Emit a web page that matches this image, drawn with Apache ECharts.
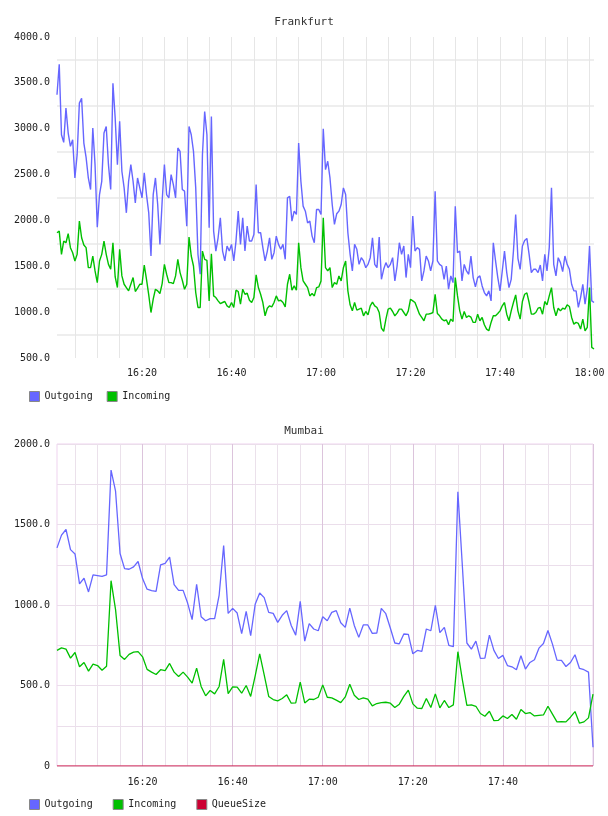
<!DOCTYPE html>
<html>
<head>
<meta charset="utf-8">
<script src="https://cdn.jsdelivr.net/npm/echarts@6/dist/echarts.min.js"></script>
<style>html,body{margin:0;padding:0;background:#fff}#main{width:608px;height:816px}</style>
</head>
<body>
<div id="main"></div>
<script>
// Frankfurt: one sample every 30 s, starting 16:01:00
var frankfurtOutgoing = [
  3370, 3703, 2934, 2851, 3224, 2953, 2808, 2880, 2463, 2717,
  3279, 3333, 2844, 2688, 2463, 2337, 3007, 2608, 1927, 2282,
  2427, 2953, 3025, 2608, 2337, 3496, 3116, 2608, 3080, 2536,
  2355, 2083, 2427, 2608, 2427, 2192, 2463, 2355, 2246, 2518,
  2282, 2083, 1612, 2282, 2463, 2174, 1739, 2210, 2608, 2282,
  2246, 2500, 2391, 2246, 2790, 2753, 2337, 2319, 1938, 3025,
  2934, 2753, 2355, 1630, 1413, 2717, 3188, 2934, 1920, 3134,
  1884, 1666, 1811, 2029, 1666, 1558, 1721, 1666, 1739, 1558,
  1775, 2101, 1739,
  2029, 1666, 1938, 1775, 1775, 1848, 2391, 1866, 1866, 1703,
  1558, 1666, 1811, 1576, 1648, 1829, 1739, 1685, 1739, 1576,
  2246, 2264, 1992, 2101, 2065, 2844, 2427, 2156, 2101, 1974,
  1992, 1829, 1757, 2119, 2119, 2065, 3000, 2554, 2645, 2463,
  2174, 1956, 2072, 2101, 2174, 2355, 2282, 1866, 1630, 1449,
  1739, 1685, 1521, 1594, 1558, 1485, 1521, 1594, 1811, 1521,
  1485, 1819, 1358, 1467, 1540, 1485, 1521, 1594, 1340, 1503,
  1757, 1630, 1721, 1377, 1630, 1485, 2047, 1666, 1703,
  1685, 1340, 1449, 1612, 1558, 1449, 1558, 2318, 1558, 1521,
  1503, 1358, 1503, 1250, 1395, 1322, 2155, 1648, 1666, 1340,
  1521, 1449, 1413, 1612, 1377, 1275, 1377, 1395, 1286, 1214,
  1177, 1232, 1123, 1757, 1558, 1377, 1232, 1449, 1666, 1431,
  1268, 1358, 1666, 2065, 1587, 1467, 1721, 1782, 1804, 1630,
  1431, 1467, 1467, 1431, 1514, 1340, 1630, 1449, 1703, 2355,
  1521, 1395, 1594, 1540, 1442, 1612, 1521, 1467, 1304, 1232,
  1232, 1051, 1159, 1304, 1087, 1250, 1721, 1123, 1105
];
var frankfurtIncoming = [
  1866, 1884, 1630, 1775, 1757, 1855, 1703, 1648, 1558, 1630,
  1992, 1811, 1732, 1703, 1485, 1485, 1612, 1449, 1322, 1558,
  1630, 1775, 1630, 1521, 1467, 1757, 1384, 1268, 1685, 1395,
  1304, 1268, 1232, 1304, 1377, 1225, 1261, 1304, 1304, 1514,
  1358, 1188, 996, 1141, 1250, 1232, 1203, 1311, 1521, 1413,
  1322, 1322, 1311, 1395, 1576, 1431, 1348, 1250, 1304, 1819,
  1612, 1503, 1214, 1051, 1051, 1666, 1576, 1565, 1123, 1637,
  1177, 1159, 1123, 1094, 1105, 1116, 1069, 1051, 1105, 1051,
  1239, 1225, 1087,
  1250, 1195, 1206, 1130, 1105, 1159, 1406, 1268, 1195, 1105,
  960, 1043, 1069, 1058, 1105, 1177, 1123, 1130, 1105, 1058,
  1304, 1413, 1239, 1286, 1239, 1757, 1485, 1340, 1304, 1268,
  1177, 1203, 1177, 1268, 1275, 1340, 2029, 1485, 1449, 1485,
  1268, 1322, 1304, 1395, 1340, 1485, 1558, 1232, 1080, 1014,
  1105, 1022, 1033, 1043, 960, 1007, 971, 1069, 1109, 1069,
  1051, 996, 826, 790, 924, 1033, 1043, 1007, 960, 989,
  1033, 1033, 996, 960, 1014, 1141, 1123, 1105, 1043,
  978, 942, 906, 978, 978, 985, 996, 1195, 985, 960,
  924, 906, 916, 862, 924, 898, 1377, 1177, 1014, 924,
  1007, 942, 960, 945, 888, 888, 978, 906, 942, 862,
  815, 797, 888, 960, 960, 985, 1014, 1069, 1105, 978,
  906, 1014, 1105, 1188, 1014, 924, 1116, 1195, 1210, 1105,
  978, 978, 996, 1043, 1051, 978, 1116, 1080, 1177, 1268,
  1051, 960, 1043, 1014, 1043, 1033, 1080, 1062, 942, 869,
  888, 877, 815, 924, 797, 833, 1268, 616, 598
];

// Mumbai: one sample per minute, starting 16:01
var mumbaiOutgoing = [
  1355, 1434, 1469, 1344, 1317, 1131, 1166, 1081, 1187, 1183,
  1178, 1187, 1838, 1707, 1320, 1226, 1222, 1237, 1270, 1164,
  1098, 1089, 1085, 1249, 1259, 1297, 1127, 1091, 1091, 1012,
  909, 1129, 927, 902, 915, 915, 1062, 1369, 948, 979,
  950, 822, 961, 809, 1004, 1075, 1046, 954, 948, 892,
  936, 965, 873, 813, 1023, 776, 884, 851, 840, 927,
  902, 954, 965, 890, 861, 981, 873, 799, 876, 876,
  824, 826, 979, 946, 857, 764, 759, 820, 817, 697,
  718, 712, 851, 840, 998, 828, 861, 749, 741, 1703,
  1241, 764, 726, 776, 668, 670, 813, 718, 668, 687,
  624, 616, 598, 685, 602, 643, 660, 732, 761, 842,
  757, 658, 656, 618, 643, 691, 606, 598, 583, 116
];
var mumbaiIncoming = [
  718, 734, 726, 670, 705, 616, 643, 589, 633, 624,
  595, 620, 1151, 971, 687, 662, 693, 707, 710, 678,
  600, 583, 568, 598, 593, 637, 583, 556, 583, 552,
  515, 608, 494, 436, 469, 448, 494, 662, 450, 492,
  490, 452, 500, 432, 560, 697, 566, 432, 413, 405,
  419, 442, 390, 392, 521, 392, 415, 413, 427, 504,
  427, 423, 409, 394, 429, 508, 440, 413, 423, 415,
  373, 388, 394, 396, 390, 363, 384, 432, 471, 386,
  359, 357, 419, 363, 448, 361, 407, 363, 380, 710,
  535, 376, 380, 371, 326, 309, 340, 282, 284, 311,
  295, 320, 290, 351, 326, 332, 311, 315, 317, 371,
  322, 274, 276, 274, 303, 338, 266, 274, 299, 446
];
var mumbaiQueueSize = [
  0, 0, 0, 0, 0, 0, 0, 0, 0, 0,
  0, 0, 0, 0, 0, 0, 0, 0, 0, 0,
  0, 0, 0, 0, 0, 0, 0, 0, 0, 0,
  0, 0, 0, 0, 0, 0, 0, 0, 0, 0,
  0, 0, 0, 0, 0, 0, 0, 0, 0, 0,
  0, 0, 0, 0, 0, 0, 0, 0, 0, 0,
  0, 0, 0, 0, 0, 0, 0, 0, 0, 0,
  0, 0, 0, 0, 0, 0, 0, 0, 0, 0,
  0, 0, 0, 0, 0, 0, 0, 0, 0, 0,
  0, 0, 0, 0, 0, 0, 0, 0, 0, 0,
  0, 0, 0, 0, 0, 0, 0, 0, 0, 0,
  0, 0, 0, 0, 0, 0, 0, 0, 0, 0
];

var frankfurtXLabels = ['16:20', '16:40', '17:00', '17:20', '17:40', '18:00'];
var mumbaiXLabels = ['16:20', '16:40', '17:00', '17:20', '17:40'];
var frankfurtGridValues = [750, 1250, 1750, 2250, 2750, 3250, 3750];

function pad(n) { return (n < 10 ? '0' : '') + n; }
function makeTimes(startSec, stepSec, n) {
  var out = [];
  for (var i = 0; i < n; i++) {
    var s = startSec + i * stepSec;
    out.push(pad(Math.floor(s / 3600)) + ':' + pad(Math.floor(s / 60) % 60) + ':' + pad(s % 60));
  }
  return out;
}
var frankfurtTimes = makeTimes(16 * 3600 + 60, 30, frankfurtOutgoing.length);
var mumbaiTimes = makeTimes(16 * 3600 + 60, 60, mumbaiOutgoing.length);

function onMinute(v, every) {
  return v.slice(6) === '00' && (+v.slice(3, 5)) % every === 0;
}

var FONT = 'DejaVu Sans Mono';
var txt = { fontFamily: FONT, fontSize: 10, color: '#222' };

var myChart = echarts.init(document.getElementById('main'));
var option = {
  animation: false,
  title: [
    { text: 'Frankfurt', left: 'center', top: 12, textStyle: { fontFamily: FONT, fontSize: 11, fontWeight: 'normal', color: '#333' } },
    { text: 'Mumbai', left: 'center', top: 421, textStyle: { fontFamily: FONT, fontSize: 11, fontWeight: 'normal', color: '#333' } }
  ],
  legend: [
    { data: ['Outgoing', 'Incoming'], left: 24, top: 386, icon: 'rect', itemWidth: 10, itemHeight: 10, itemGap: 14,
      itemStyle: { borderColor: '#888', borderWidth: 1 }, textStyle: txt },
    { data: ['Outgoing', 'Incoming', 'QueueSize'], left: 24, top: 794, icon: 'rect', itemWidth: 10, itemHeight: 10, itemGap: 20,
      itemStyle: { borderColor: '#888', borderWidth: 1 }, textStyle: txt }
  ],
  grid: [
    { left: 57, top: 37, width: 537, height: 321 },
    { left: 57, top: 444, width: 536, height: 322, show: true, borderColor: '#efd3ef', borderWidth: 1 }
  ],
  xAxis: [
    { type: 'category', gridIndex: 0, data: frankfurtTimes, boundaryGap: false,
      axisLine: { show: false }, axisTick: { show: false },
      axisLabel: { interval: function (i, v) { return v.slice(6) === '00' && frankfurtXLabels.indexOf(v.slice(0, 5)) >= 0; },
        formatter: function (v) { return v.slice(0, 5); }, margin: 10, fontFamily: FONT, fontSize: 10, color: '#222' },
      splitLine: { show: true, interval: function (i, v) { return onMinute(v, 5); }, lineStyle: { color: '#e6e6e6', width: 1 } } },
    { type: 'category', gridIndex: 1, data: mumbaiTimes, boundaryGap: false,
      axisLine: { show: false }, axisTick: { show: false },
      axisLabel: { interval: function (i, v) { return mumbaiXLabels.indexOf(v.slice(0, 5)) >= 0; },
        formatter: function (v) { return v.slice(0, 5); }, margin: 11, fontFamily: FONT, fontSize: 10, color: '#222' },
      splitLine: { show: true, interval: function (i, v) { return onMinute(v, 20); }, lineStyle: { color: '#dcc4dc', width: 1 } } },
    { type: 'category', gridIndex: 1, data: mumbaiTimes, boundaryGap: false, position: 'bottom',
      axisLine: { show: false }, axisTick: { show: false }, axisLabel: { show: false },
      splitLine: { show: true, interval: function (i, v) { return onMinute(v, 5) && !onMinute(v, 20); }, lineStyle: { color: '#ebe1eb', width: 1 } } }
  ],
  yAxis: [
    { type: 'value', gridIndex: 0, min: 500, max: 4000, interval: 500,
      axisLine: { show: false }, axisTick: { show: false }, splitLine: { show: false },
      axisLabel: { formatter: function (v) { return v.toFixed(1); }, margin: 7, fontFamily: FONT, fontSize: 10, color: '#222' } },
    { type: 'value', gridIndex: 0, min: 500, max: 4000,
      axisLine: { show: false }, axisLabel: { show: false },
      axisTick: { show: false, customValues: frankfurtGridValues },
      splitLine: { show: true, lineStyle: { color: '#eeeeee', width: 2 } } },
    { type: 'value', gridIndex: 1, min: 0, max: 2000, interval: 250,
      axisLine: { show: false }, axisTick: { show: false },
      splitLine: { show: true, lineStyle: { color: '#ebdeeb', width: 1 } },
      axisLabel: { formatter: function (v) { return v % 500 ? '' : (v === 0 ? '0' : v.toFixed(1)); }, margin: 7, fontFamily: FONT, fontSize: 10, color: '#222' } }
  ],
  series: [
    { name: 'Outgoing', type: 'line', xAxisIndex: 0, yAxisIndex: 0, data: frankfurtOutgoing, showSymbol: false,
      color: '#6666ff', lineStyle: { width: 1.4 } },
    { name: 'Incoming', type: 'line', xAxisIndex: 0, yAxisIndex: 0, data: frankfurtIncoming, showSymbol: false,
      color: '#00c000', lineStyle: { width: 1.4 } },
    { name: 'Outgoing', type: 'line', xAxisIndex: 1, yAxisIndex: 2, data: mumbaiOutgoing, showSymbol: false,
      color: '#6666ff', lineStyle: { width: 1.3 } },
    { name: 'Incoming', type: 'line', xAxisIndex: 1, yAxisIndex: 2, data: mumbaiIncoming, showSymbol: false,
      color: '#00c000', lineStyle: { width: 1.3 } },
    { name: 'QueueSize', type: 'line', xAxisIndex: 1, yAxisIndex: 2, data: mumbaiQueueSize, showSymbol: false,
      color: '#cc0033', lineStyle: { width: 1.2 } }
  ]
};
myChart.setOption(option);
</script>
</body>
</html>
